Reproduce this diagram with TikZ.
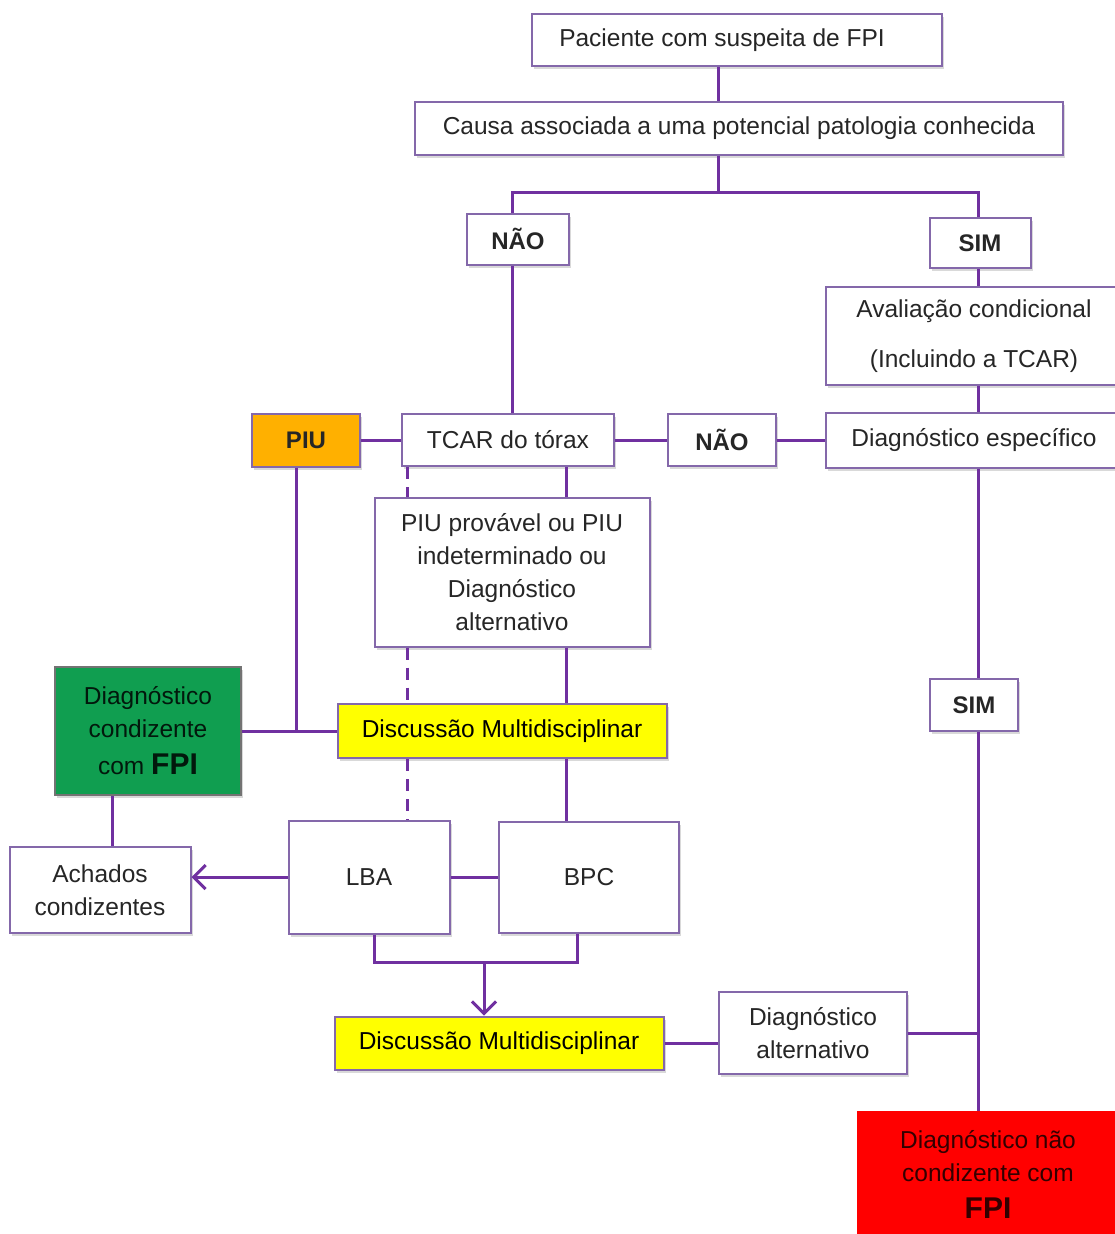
\documentclass[tikz,border=0pt]{standalone}
\usepackage{fontspec}
\setmainfont{Liberation Sans}
\usepackage{xcolor}
\usetikzlibrary{arrows.meta}
\usetikzlibrary{shadows}

\definecolor{linepurple}{RGB}{112,48,160}
\definecolor{boxpurple}{RGB}{132,104,170}
\definecolor{piuorange}{RGB}{255,176,0}
\definecolor{fpigreen}{RGB}{16,158,80}
\definecolor{dmyellow}{RGB}{255,255,0}
\definecolor{nofpired}{RGB}{255,0,0}

\tikzset{
	wh/.style 2 args={minimum width=#1pt, minimum height=#2pt},
	box/.style={draw=boxpurple, line width=2pt, fill=white, inner sep=0pt, align=center,
		text=black!85, font=\fontsize{24.5}{33}\selectfont,
		drop shadow={shadow xshift=2pt, shadow yshift=-3pt, opacity=.3}},
	answer/.style={box, font=\fontsize{24}{30}\selectfont\bfseries},
	conn/.style={draw=linepurple, line width=3pt},
	dashconn/.style={conn, dash pattern=on 12pt off 8pt},
	arrowconn/.style={conn, -{Straight Barb[length=12pt, width=24pt, line width=3pt]}},
}

\newcommand{\bigfpi}{{\fontsize{30}{30}\selectfont\bfseries FPI}}

\begin{document}
\begin{tikzpicture}[x=1pt, y=-1pt]
	\useasboundingbox (0,0) rectangle (1115,1234);

	% first question
	\node[box, wh={410}{52}] (pac) at (737,40) {Paciente com suspeita de FPI\hspace{30pt}};
	\node[box, wh={648}{53}] (causa) at (739,128) {Causa associada a uma potencial patologia conhecida};
	\node[answer, wh={102}{51}] (nao1) at (518,239) {NÃO};
	\node[answer, wh={101}{50}] (sim1) at (980,243) {SIM};

	% right branch
	\node[box, wh={296}{98}] (aval) at (974,336) {Avaliação condicional\\[17pt](Incluindo a TCAR)};
	\node[box, wh={296}{55}] (diagesp) at (974,440) {Diagnóstico específico};
	\node[answer, wh={108}{52}] (nao2) at (722,440) {NÃO};
	\node[answer, wh={88}{52}] (sim2) at (974,705) {SIM};

	% TCAR row
	\node[box, wh={212}{52}] (tcar) at (508,440) {TCAR do tórax};
	\node[answer, wh={108}{53}, fill=piuorange] (piu) at (306,440) {PIU};
	\node[box, wh={275}{149}] (piuprov) at (512,572) {PIU provável ou PIU\\indeterminado ou\\Diagnóstico\\alternativo};

	% first discussion
	\node[box, wh={329}{54}, fill=dmyellow, text=black] (dm1) at (502,731) {Discussão Multidisciplinar};
	\node[box, wh={186}{128}, fill=fpigreen, draw=black!55, text=black!85!fpigreen] (cond) at (148,731) {Diagnóstico\\condizente\\[4pt]com \bigfpi};

	% biopsies
	\node[box, wh={181}{86}] (ach) at (100,890) {Achados\\condizentes};
	\node[box, wh={161}{113}] (lba) at (369,877) {LBA};
	\node[box, wh={180}{111}] (bpc) at (589,877) {BPC};

	% second discussion
	\node[box, wh={329}{53}, fill=dmyellow, text=black] (dm2) at (499,1043) {Discussão Multidisciplinar};
	\node[box, wh={188}{82}] (alt) at (813,1033) {Diagnóstico\\alternativo};
	\node[box, wh={260}{124}, fill=nofpired, draw=nofpired, text=black!80!red, drop shadow={opacity=0}] (nofpi) at (988,1174) {Diagnóstico não\\condizente com\\[4pt]\bigfpi};

	% junctions
	\coordinate (top) at (718,192);
	\coordinate (xs) at (566,0);
	\coordinate (xd) at (407,0);
	\coordinate (xr) at (978,0);
	\coordinate (xa) at (112,0);
	\coordinate (xl) at (374,0);
	\coordinate (xb) at (577,0);
	\coordinate (xn) at (512,0);
	\coordinate (jpiu) at (296,731);
	\coordinate (jbio) at (484,962);

	% Lines
	\draw[conn] (pac.south -| top) -- (causa.north -| top);
	\draw[conn] (causa.south -| top) -- (top);
	\draw[conn] (nao1.north -| xn) |- (top) -| (sim1.north -| xr);
	\draw[conn] (nao1.south -| xn) -- (tcar.north -| xn);
	\draw[conn] (sim1.south -| xr) -- (aval.north -| xr);
	\draw[conn] (aval.south -| xr) -- (diagesp.north -| xr);
	\draw[conn] (diagesp.west) -- (nao2.east);
	\draw[conn] (nao2.west) -- (tcar.east);
	\draw[conn] (tcar.west) -- (piu.east);
	\draw[conn] (piu.south -| jpiu) -- (jpiu);
	\draw[conn] (cond.east) -- (dm1.west);
	\draw[conn] (tcar.south -| xs) -- (piuprov.north -| xs);
	\draw[conn] (piuprov.south -| xs) -- (dm1.north -| xs);
	\draw[conn] (dm1.south -| xs) -- (bpc.north -| xs);
	\draw[dashconn] (tcar.south -| xd) -- (piuprov.north -| xd);
	\draw[dashconn] (piuprov.south -| xd) -- (dm1.north -| xd);
	\draw[dashconn] (dm1.south -| xd) -- (lba.north -| xd);
	\draw[conn] (cond.south -| xa) -- (ach.north -| xa);
	\draw[arrowconn] (lba.west) -- (lba.west -| ach.east);
	\draw[conn] (lba.east) -- (bpc.west);
	\draw[conn] (lba.south -| xl) |- (jbio) -| (bpc.south -| xb);
	\draw[arrowconn] (jbio) -- (dm2.north -| jbio);
	\draw[conn] (dm2.east) -- (dm2.east -| alt.west);
	\draw[conn] (alt.east) -- (alt.east -| xr);
	\draw[conn] (diagesp.south -| xr) -- (sim2.north -| xr);
	\draw[conn] (sim2.south -| xr) -- (nofpi.north -| xr);

\end{tikzpicture}
\end{document}
